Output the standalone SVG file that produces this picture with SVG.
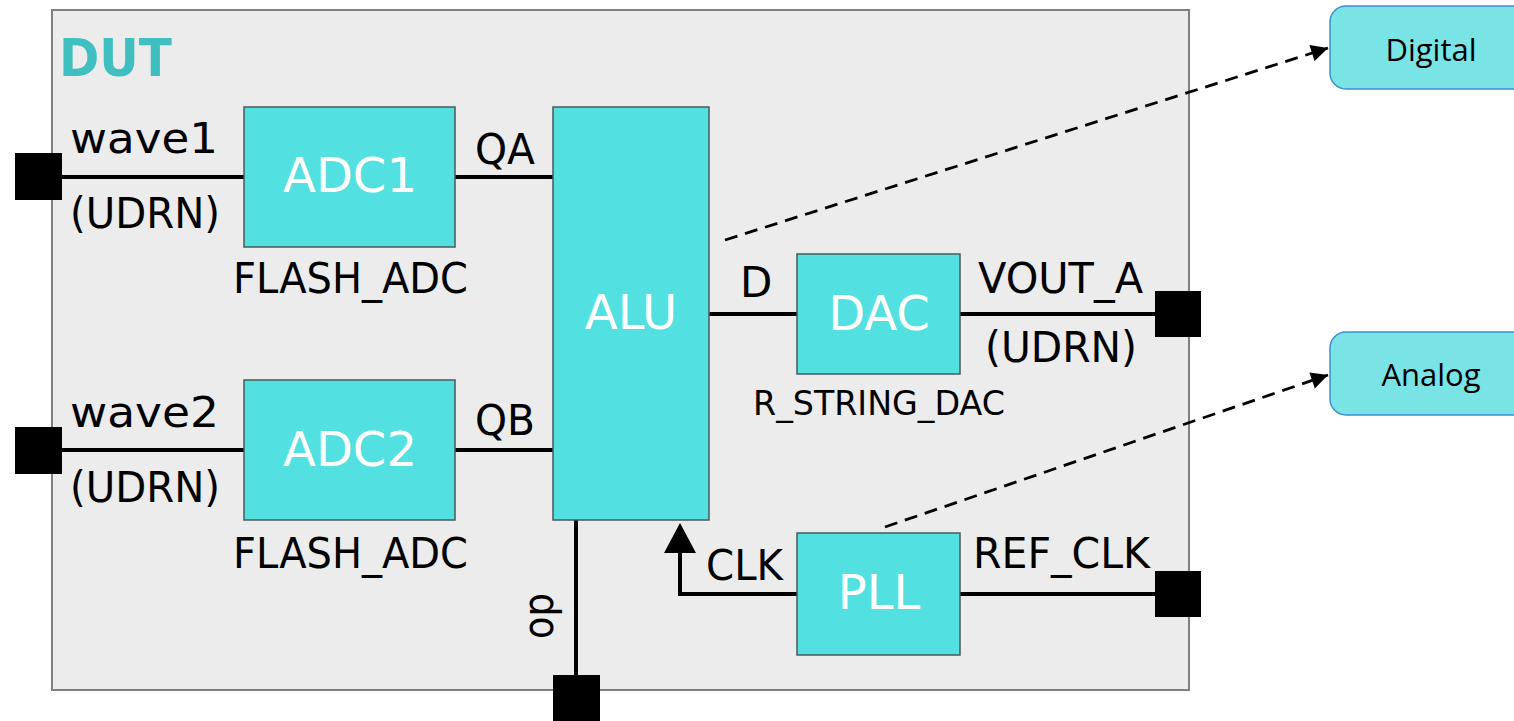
<svg xmlns="http://www.w3.org/2000/svg" width="1514" height="721" viewBox="0 0 1514 721">
  <style>
    .blk { fill: #52e0e0; stroke: #4a5a5a; stroke-width: 1.5; }
    .ext { fill: #7ae3e6; stroke: #3b8fd4; stroke-width: 1.5; }
    .port { fill: #000; }
    .wire { stroke: #000; stroke-width: 4; fill: none; }
    .dash { stroke: #000; stroke-width: 2.8; fill: none; stroke-dasharray: 13 8; }
    .lbl { font-family: "DejaVu Sans", sans-serif; font-size: 42px; fill: #000; }
    .big { font-family: "DejaVu Sans", sans-serif; font-size: 48px; fill: #fff; text-anchor: middle; }
    .sm { font-family: "DejaVu Sans", sans-serif; font-size: 33px; fill: #000; }
    .ext-t { font-family: "Open Sans", "Noto Sans", sans-serif; font-size: 31px; fill: #000; text-anchor: middle; }
  </style>
  <defs>
    <marker id="arr" viewBox="0 0 10 10" refX="10" refY="5" markerWidth="7" markerHeight="6" markerUnits="strokeWidth" orient="auto">
      <path d="M0,0 L10,5 L0,10 z" fill="#000"/>
    </marker>
  </defs>

  <g id="DUT">
    <rect x="52" y="10" width="1137" height="680" fill="#ececec" stroke="#808080" stroke-width="2"/>
    <text x="59" y="76" font-family="DejaVu Sans, sans-serif" font-weight="bold" font-size="51" fill="#3fbfbf" textLength="113" lengthAdjust="spacingAndGlyphs">DUT</text>
  </g>

  <g id="connectors">
    <line class="wire" x1="60" y1="177" x2="244" y2="177"/>
    <line class="wire" x1="455" y1="177" x2="553" y2="177"/>
    <line class="wire" x1="60" y1="450" x2="244" y2="450"/>
    <line class="wire" x1="455" y1="450" x2="553" y2="450"/>
    <line class="wire" x1="709" y1="314" x2="797" y2="314"/>
    <line class="wire" x1="960" y1="314" x2="1160" y2="314"/>
    <line class="wire" x1="960" y1="594" x2="1160" y2="594"/>
    <line class="wire" x1="576" y1="520" x2="576" y2="680"/>
    <polyline class="wire" points="797,594 680,594 680,550" stroke-linejoin="miter"/>
    <polygon points="680,523 664,553 696,553" fill="#000"/>
    <line class="dash" x1="725" y1="240" x2="1328" y2="48" marker-end="url(#arr)"/>
    <line class="dash" x1="885" y1="527" x2="1328" y2="375" marker-end="url(#arr)"/>
  </g>

  <g id="port-wave1">
    <rect class="port" x="15" y="153" width="47" height="47"/>
    <text class="lbl" x="70" y="153" font-size="50" textLength="148" lengthAdjust="spacingAndGlyphs">wave1</text>
    <text class="lbl" x="70" y="228" font-size="48" textLength="150" lengthAdjust="spacingAndGlyphs">(UDRN)</text>
  </g>
  <g id="port-wave2">
    <rect class="port" x="15" y="427" width="47" height="47"/>
    <text class="lbl" x="70" y="427" font-size="50" textLength="149" lengthAdjust="spacingAndGlyphs">wave2</text>
    <text class="lbl" x="70" y="502" font-size="48" textLength="150" lengthAdjust="spacingAndGlyphs">(UDRN)</text>
  </g>
  <g id="port-vout">
    <rect class="port" x="1155" y="291" width="46" height="46"/>
    <text class="lbl" x="978" y="293" font-size="43" textLength="165" lengthAdjust="spacingAndGlyphs">VOUT_A</text>
    <text class="lbl" x="985" y="362" font-size="48" textLength="152" lengthAdjust="spacingAndGlyphs">(UDRN)</text>
  </g>
  <g id="port-refclk">
    <rect class="port" x="1155" y="571" width="46" height="46"/>
    <text class="lbl" x="973" y="568" font-size="42" textLength="177" lengthAdjust="spacingAndGlyphs">REF_CLK</text>
  </g>
  <g id="port-op">
    <rect class="port" x="553" y="675" width="47" height="46"/>
    <text class="lbl" font-size="42" text-anchor="middle" transform="translate(553,616) rotate(-90)" textLength="46" lengthAdjust="spacingAndGlyphs">op</text>
  </g>

  <g id="ADC1">
    <rect class="blk" x="244" y="107" width="211" height="140"/>
    <text class="big" x="350" y="192">ADC1</text>
    <text class="lbl" x="233" y="293" font-size="42" textLength="235" lengthAdjust="spacingAndGlyphs">FLASH_ADC</text>
    <text class="lbl" x="475" y="164" textLength="60" lengthAdjust="spacingAndGlyphs">QA</text>
  </g>
  <g id="ADC2">
    <rect class="blk" x="244" y="380" width="211" height="140"/>
    <text class="big" x="350" y="466">ADC2</text>
    <text class="lbl" x="233" y="568" font-size="42" textLength="235" lengthAdjust="spacingAndGlyphs">FLASH_ADC</text>
    <text class="lbl" x="475" y="435" textLength="60" lengthAdjust="spacingAndGlyphs">QB</text>
  </g>
  <g id="ALU">
    <rect class="blk" x="553" y="107" width="156" height="413"/>
    <text class="big" x="631" y="329">ALU</text>
  </g>
  <g id="DAC">
    <rect class="blk" x="797" y="254" width="163" height="120"/>
    <text class="big" x="879" y="330">DAC</text>
    <text class="lbl" x="740" y="297">D</text>
    <text class="sm" x="753" y="415" textLength="252" lengthAdjust="spacingAndGlyphs">R_STRING_DAC</text>
  </g>
  <g id="PLL">
    <rect class="blk" x="797" y="533" width="163" height="122"/>
    <text class="big" x="879" y="609">PLL</text>
    <text class="lbl" x="706" y="580" font-size="42" textLength="77" lengthAdjust="spacingAndGlyphs">CLK</text>
  </g>

  <g id="Digital">
    <rect class="ext" x="1330" y="6" width="200" height="83" rx="16" ry="16"/>
    <text class="ext-t" x="1431" y="61">Digital</text>
  </g>
  <g id="Analog">
    <rect class="ext" x="1330" y="332" width="200" height="83" rx="16" ry="16"/>
    <text class="ext-t" x="1431" y="386">Analog</text>
  </g>
</svg>
